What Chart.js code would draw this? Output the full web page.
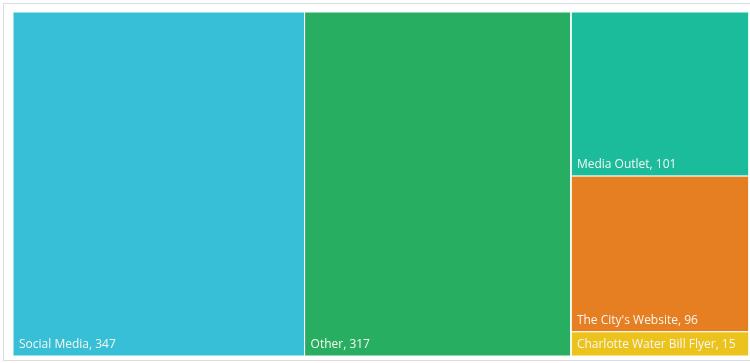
<!DOCTYPE html>
<html>
<head>
<meta charset="utf-8">
<script src="https://cdn.jsdelivr.net/npm/chart.js@4.4.1/dist/chart.umd.min.js"></script>
<style>
  html,body{margin:0;padding:0;background:#fff;}
  .frame{position:absolute;left:3px;top:3px;width:760px;height:356px;border:1px solid #dcdcdc;}
  .wrap{position:absolute;left:0;top:0;width:750px;height:363px;}
</style>
</head>
<body>
<div class="frame"></div>
<div class="wrap"><canvas id="tm"></canvas></div>
<script>
const categories = ['Social Media','Other','Media Outlet',"The City's Website",'Charlotte Water Bill Flyer'];
const counts = [347,317,101,96,15];
const colors = ['#36bfd6','#27ae60','#1abc9c','#e67e22','#ebc31c'];

// layout area in abstract units (width : height of the plot)
const W = 731/343, H = 1;

// squarified treemap layout
function worst(row, side){
  const s = row.reduce((a,b)=>a+b,0);
  const mx = Math.max(...row), mn = Math.min(...row);
  return Math.max(side*side*mx/(s*s), (s*s)/(side*side*mn));
}
function squarify(areas, idx, x, y, w, h, out){
  if(!areas.length) return;
  const side = Math.min(w,h);
  let n = 1;
  while(n<areas.length && worst(areas.slice(0,n+1),side) <= worst(areas.slice(0,n),side)) n++;
  const row = areas.slice(0,n);
  const s = row.reduce((a,b)=>a+b,0);
  if(w>=h){
    const cw = s/h; let cy = y;
    row.forEach((a,i)=>{ const ch=a/cw; out.push({i:idx[i],x0:x,x1:x+cw,y0:cy,y1:cy+ch}); cy+=ch; });
    squarify(areas.slice(n), idx.slice(n), x+cw, y, w-cw, h, out);
  }else{
    const rh = s/w; let cx = x;
    row.forEach((a,i)=>{ const rw=a/rh; out.push({i:idx[i],x0:cx,x1:cx+rw,y0:y,y1:y+rh}); cx+=rw; });
    squarify(areas.slice(n), idx.slice(n), x, y+rh, w, h-rh, out);
  }
}
const total = counts.reduce((a,b)=>a+b,0);
const rects = [];
squarify(counts.map(v=>v/total*W*H), counts.map((_,i)=>i), 0, 0, W, H, rects);

const datasets = rects.map(r=>({
  label: categories[r.i],
  data: [{x:r.x0,y:r.y0},{x:r.x1,y:r.y0},{x:r.x1,y:r.y1},{x:r.x0,y:r.y1},{x:r.x0,y:r.y0}],
  showLine:true,
  fill:'shape',
  backgroundColor: colors[r.i],
  borderColor:'#ffffff',
  borderWidth:1,
  pointRadius:0,
  tension:0
}));

const labelPlugin = {
  id:'tmLabels',
  afterDatasetsDraw(chart){
    const {ctx, scales:{x, y}} = chart;
    ctx.save();
    ctx.font = '12px "Open Sans", sans-serif';
    ctx.fillStyle = '#f7f7f2';
    ctx.textBaseline = 'alphabetic';
    rects.forEach(r=>{
      ctx.fillText(`${categories[r.i]}, ${counts[r.i]}`, x.getPixelForValue(r.x0)+6, y.getPixelForValue(r.y1)-8);
    });
    ctx.restore();
  }
};

new Chart(document.getElementById('tm'), {
  type:'scatter',
  data:{datasets},
  options:{
    responsive:true,
    maintainAspectRatio:false,
    animation:false,
    layout:{padding:{left:13,top:12,right:1,bottom:7}},
    plugins:{legend:{display:false},tooltip:{enabled:false}},
    scales:{
      x:{type:'linear',min:0,max:W,display:false},
      y:{type:'linear',min:0,max:H,reverse:true,display:false}
    }
  },
  plugins:[labelPlugin]
});
</script>
</body>
</html>
